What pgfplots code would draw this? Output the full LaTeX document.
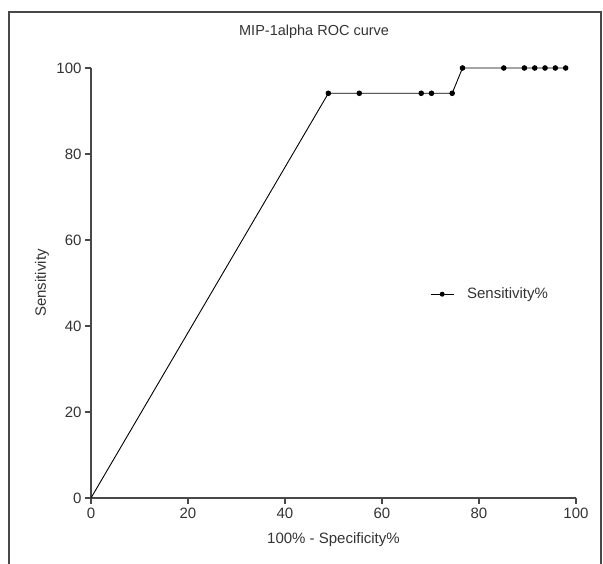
\documentclass[border=0pt]{standalone}
\usepackage{fontspec}
\setmainfont{Liberation Sans}
\usepackage{pgfplots}
\pgfplotsset{compat=1.18}
\definecolor{inkgray}{RGB}{51,51,51}
\definecolor{axgray}{RGB}{72,72,72}

\begin{document}
\begin{tikzpicture}
\useasboundingbox (-91pt,-66pt) rectangle (512pt,498pt);
% outer frame of the figure panel
\draw[axgray, line width=1.2pt] (-82pt,-70pt) -- (-82pt,486pt) -- (510pt,486pt) -- (510pt,-70pt);
\begin{axis}[
  scale only axis, width=485pt, height=430pt,
  xmin=0, xmax=100, ymin=0, ymax=100,
  axis lines=left, axis line style={-, draw=axgray, line width=1.2pt},
  tick align=outside, major tick length=6pt,
  tick style={draw=axgray, line width=1.2pt},
  xtick={0,20,...,100}, ytick={0,20,...,100},
  ticklabel style={font=\fontsize{15}{17}\selectfont, text=inkgray},
  /pgf/number format/assume math mode=true,
  title={MIP-1alpha ROC curve},
  title style={at={(axis description cs:0.46,1)}, anchor=base, yshift=26pt,
               font=\fontsize{14.5}{16}\selectfont, text=inkgray},
  xlabel={100\% - Specificity\%},
  xlabel style={at={(axis description cs:0.5,0)}, anchor=center, yshift=-42pt,
                font=\fontsize{15}{17}\selectfont, text=inkgray},
  ylabel={Sensitivity},
  ylabel style={at={(axis description cs:-0.101,0.5)}, anchor=center,
                font=\fontsize{15}{17}\selectfont, text=inkgray},
  legend style={draw=none, fill=none, at={(axis cs:69.9,47.4)}, anchor=west,
                font=\fontsize{15}{17}\selectfont, text=inkgray, inner sep=0pt},
  legend image code/.code={
    \draw[black, line width=0.9pt] (0pt,0pt) -- (23pt,0pt);
    \fill[black] (11.5pt,0pt) circle (2pt);
    \path (34pt,0pt);},
  clip=false,
]
\addplot[black, line width=0.9pt, mark=*, mark size=2.3pt,
         mark indices={2,3,4,5,6,7,8,9,10,11,12,13}] coordinates {
  (0,0) (48.94,94.12) (55.32,94.12) (68.09,94.12) (70.21,94.12) (74.47,94.12)
  (76.60,100) (85.11,100) (89.36,100) (91.49,100) (93.62,100) (95.74,100) (97.87,100)
};
\addlegendentry{Sensitivity\%}
\end{axis}
\end{tikzpicture}
\end{document}
